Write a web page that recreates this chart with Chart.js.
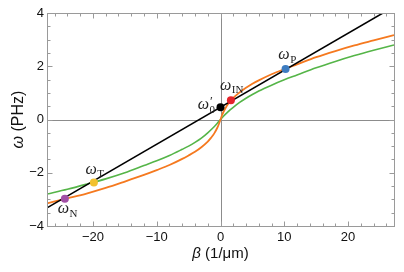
<!DOCTYPE html>
<html>
<head>
<meta charset="utf-8">
<script src="https://cdn.jsdelivr.net/npm/chart.js@4.4.1/dist/chart.umd.min.js"></script>
<style>
  html, body { margin: 0; padding: 0; background: #fff; }
</style>
</head>
<body>
<canvas id="chart" width="404" height="272"></canvas>
<script>
// ===== Data =====

// orange branch
const betaOrange  = [-27.2, -24, -21, -18, -15, -12, -10, -8, -6, -5, -4, -3, -2, -1.5, -1, -0.5, -0.25, 0,
                     0.25, 0.5, 1, 1.5, 2, 3, 4, 5, 6, 8, 10, 12, 15, 18, 21, 24, 27.2];
const omegaOrange = [-3.15, -2.96, -2.78, -2.57, -2.33, -2.08, -1.9, -1.71, -1.48, -1.35, -1.21, -1.04, -0.83, -0.69, -0.53, -0.31, -0.17, 0,
                     0.17, 0.3, 0.52, 0.68, 0.81, 1.02, 1.19, 1.34, 1.47, 1.7, 1.89, 2.07, 2.34, 2.57, 2.78, 2.97, 3.17];

// green branch
const betaGreen  = [-27.2, -24, -21, -18, -15, -12, -10, -8, -6, -5, -4, -3, -2, -1, -0.5, 0,
                    0.5, 1, 1.5, 2, 3, 4, 5, 6, 8, 10, 12, 15, 18, 21, 24, 27.2];
const omegaGreen = [-2.8, -2.62, -2.43, -2.23, -2.0, -1.73, -1.55, -1.35, -1.12, -1.0, -0.86, -0.7, -0.5, -0.27, -0.14, 0,
                    0.13, 0.25, 0.36, 0.46, 0.64, 0.8, 0.94, 1.07, 1.29, 1.49, 1.67, 1.94, 2.18, 2.4, 2.6, 2.8];

// black (straight) line
const betaLine  = [-27.2, 27.2];
const omegaLine = [-3.32, 4.24];

// marked points
const pointNames = ['0', 'IN', 'P', 'T', 'N'];
const pointBeta  = [0, 1.63, 10.2, -19.85, -24.4];
const pointOmega = [0.46, 0.72, 1.9, -2.37, -2.98];
const pointColors = ['#000000', '#e4232b', '#3d7cc0', '#f2c12e', '#a24fa6'];

// ticks
const xTicks = [-20, -10, 0, 10, 20];
const yTicks = [-4, -2, 0, 2, 4];

// ===== Styling =====
const FRAME = '#9a9a9a';
const AXIS0 = '#8c8c8c';
const SANS = '"Liberation Sans", Arial, sans-serif';
const SERIF = '"Liberation Serif", "Times New Roman", serif';

const toXY = (xs, ys) => xs.map((x, i) => ({ x: x, y: ys[i] }));
const minus = (v) => String(v).replace('-', '\u2212');

// label offsets (px) relative to each marked point: [dx, dy, align]
const labelOffsets = {
  '0':  [-5, 0, 'right'],
  'IN': [1, -13, 'center'],
  'P':  [2, -12, 'center'],
  'T':  [1, -11, 'center'],
  'N':  [3, 12, 'center']
};

// frame, inward ticks, zero lines, point labels and axis titles
const framePlugin = {
  id: 'frame',
  beforeDatasetsDraw(chart) {
    const { ctx, chartArea: a, scales: { x, y } } = chart;
    ctx.save();
    ctx.strokeStyle = AXIS0;
    ctx.lineWidth = 1;
    const x0 = Math.round(x.getPixelForValue(0)) + 0.5;
    const y0 = Math.round(y.getPixelForValue(0)) + 0.5;
    ctx.beginPath();
    ctx.moveTo(x0, a.top); ctx.lineTo(x0, a.bottom);
    ctx.moveTo(a.left, y0); ctx.lineTo(a.right, y0);
    ctx.stroke();
    ctx.restore();
  },
  afterDatasetsDraw(chart) {
    const { ctx, chartArea: a, scales: { x, y } } = chart;
    ctx.save();
    ctx.strokeStyle = FRAME;
    ctx.lineWidth = 1;
    const L = Math.round(a.left) + 0.5, R = Math.round(a.right) + 0.5;
    const T = Math.round(a.top) + 0.5, B = Math.round(a.bottom) + 0.5;
    ctx.strokeRect(L, T, R - L, B - T);

    ctx.beginPath();
    for (let v = -26; v <= 26; v += 2) {
      const px = Math.round(x.getPixelForValue(v)) + 0.5;
      const len = v % 10 === 0 ? 5 : 3;
      ctx.moveTo(px, B); ctx.lineTo(px, B - len);
      ctx.moveTo(px, T); ctx.lineTo(px, T + len);
    }
    for (let v = -4; v <= 4; v += 0.5) {
      const py = Math.round(y.getPixelForValue(v)) + 0.5;
      const len = v % 2 === 0 ? 5 : 3;
      ctx.moveTo(L, py); ctx.lineTo(L + len, py);
      ctx.moveTo(R, py); ctx.lineTo(R - len, py);
    }
    ctx.stroke();

    // point labels
    ctx.fillStyle = '#222';
    ctx.textBaseline = 'middle';
    pointNames.forEach((name, i) => {
      const px = x.getPixelForValue(pointBeta[i]);
      const py = y.getPixelForValue(pointOmega[i]);
      const [dx, dy, align] = labelOffsets[name];
      ctx.font = 'italic 16px ' + SERIF;
      const wW = ctx.measureText('\u03c9').width;
      ctx.font = '11px ' + SERIF;
      const wS = ctx.measureText(name).width;
      const total = wW + wS + 1;
      let left = px + dx - total / 2;
      if (align === 'right') left = px + dx - total;
      ctx.textAlign = 'left';
      ctx.font = 'italic 16px ' + SERIF;
      ctx.fillText('\u03c9', left, py + dy - 2);
      ctx.font = '11px ' + SERIF;
      ctx.fillText(name, left + wW + 0.5, py + dy + 3);
      if (name === '0') {
        ctx.font = '13px ' + SERIF;
        ctx.fillText('\u2032', left + wW + 1, py + dy - 6);
      }
    });

    // axis titles
    ctx.fillStyle = '#111';
    ctx.textBaseline = 'alphabetic';
    ctx.textAlign = 'left';
    const drawTitle = (greek, rest, cx, cy, size) => {
      ctx.font = 'italic ' + size + 'px ' + SANS;
      const wg = ctx.measureText(greek).width;
      ctx.font = size + 'px ' + SANS;
      const wr = ctx.measureText(rest).width;
      const start = cx - (wg + wr) / 2;
      ctx.font = 'italic ' + size + 'px ' + SANS;
      ctx.fillText(greek, start, cy);
      ctx.font = size + 'px ' + SANS;
      ctx.fillText(rest, start + wg, cy);
    };
    drawTitle('\u03b2', ' (1/\u03bcm)', (a.left + a.right) / 2, 258, 15);
    ctx.save();
    ctx.translate(23, (a.top + a.bottom) / 2);
    ctx.rotate(-Math.PI / 2);
    drawTitle('\u03c9', ' (PHz)', 0, 0, 16);
    ctx.restore();
    ctx.restore();
  }
};

const lineSet = (label, xs, ys, color, width) => ({
  type: 'line',
  label: label,
  data: toXY(xs, ys),
  borderColor: color,
  borderWidth: width,
  pointRadius: 0,
  fill: false,
  cubicInterpolationMode: 'monotone'
});

new Chart(document.getElementById('chart').getContext('2d'), {
  type: 'scatter',
  data: {
    datasets: [
      {
        type: 'scatter',
        label: 'points',
        data: toXY(pointBeta, pointOmega),
        pointRadius: 4,
        pointBackgroundColor: pointColors,
        pointBorderWidth: 0,
        order: 0
      },
      Object.assign(lineSet('line', betaLine, omegaLine, '#000000', 1.6), { order: 1 }),
      Object.assign(lineSet('orange', betaOrange, omegaOrange, '#f5791f', 1.8), { order: 2 }),
      Object.assign(lineSet('green', betaGreen, omegaGreen, '#55b548', 1.6), { order: 3 })
    ]
  },
  options: {
    responsive: false,
    devicePixelRatio: 1,
    animation: false,
    layout: { padding: { top: 13, right: 10, left: 0, bottom: 0 } },
    plugins: {
      legend: { display: false },
      tooltip: { enabled: false }
    },
    scales: {
      x: {
        type: 'linear',
        min: -27.2,
        max: 27.2,
        afterBuildTicks: (s) => { s.ticks = xTicks.map(v => ({ value: v })); },
        afterFit: (s) => { s.height = 46; },
        grid: { display: false, drawTicks: false },
        border: { display: false },
        ticks: {
          color: '#111',
          padding: 4,
          maxRotation: 0,
          font: { family: SANS, size: 13 },
          callback: (v) => minus(v)
        }
      },
      y: {
        type: 'linear',
        min: -4,
        max: 4,
        afterBuildTicks: (s) => { s.ticks = yTicks.map(v => ({ value: v })); },
        afterFit: (s) => { s.width = 47; },
        grid: { display: false, drawTicks: false },
        border: { display: false },
        ticks: {
          color: '#111',
          padding: 3,
          font: { family: SANS, size: 13 },
          callback: (v) => minus(v)
        }
      }
    }
  },
  plugins: [framePlugin]
});
</script>
</body>
</html>
